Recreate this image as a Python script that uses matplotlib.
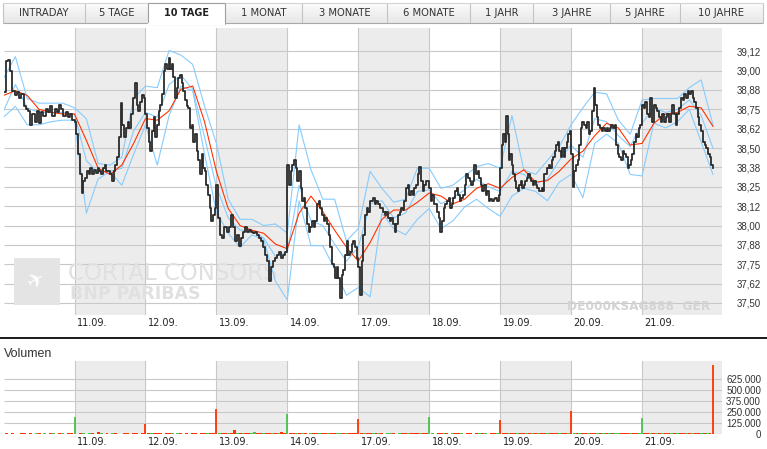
import matplotlib.pyplot as plt
import matplotlib.patches as patches
import numpy as np

# period selector
tabs = ['INTRADAY', '5 TAGE', '10 TAGE', '1 MONAT', '3 MONATE',
        '6 MONATE', '1 JAHR', '3 JAHRE', '5 JAHRE', '10 JAHRE']
active_tab = '10 TAGE'

# trading days, 10.09. is the first (unlabelled) one
day_labels = ['11.09.', '12.09.', '13.09.', '14.09.', '17.09.',
              '18.09.', '19.09.', '20.09.', '21.09.']

# intraday prices in EUR, one list per trading day
p_1009 = [38.86, 39.06, 39.07, 39.00, 38.87, 38.84, 38.86, 38.82, 38.85, 38.77, 38.75,
          38.74, 38.65, 38.72, 38.67, 38.74, 38.66, 38.73, 38.71, 38.75, 38.73, 38.77,
          38.71, 38.75, 38.73, 38.78, 38.75, 38.71, 38.73, 38.70, 38.72, 38.68]
p_1109 = [38.67, 38.59, 38.46, 38.33, 38.21, 38.29, 38.31, 38.35, 38.33, 38.37, 38.33,
          38.36, 38.34, 38.37, 38.35, 38.33, 38.37, 38.39, 38.35, 38.35, 38.33, 38.29,
          38.35, 38.39, 38.44, 38.57, 38.79, 38.65, 38.57, 38.63, 38.67, 38.63, 38.72,
          38.82, 38.92, 38.78, 38.74, 38.80, 38.84, 38.82]
p_1209 = [38.72, 38.63, 38.54, 38.48, 38.61, 38.70, 38.57, 38.65, 38.74, 38.78, 38.85,
          39.00, 39.04, 39.01, 39.08, 39.01, 39.04, 38.96, 38.82, 38.89, 38.95, 38.97,
          38.92, 38.87, 38.81, 38.77, 38.76, 38.63, 38.65, 38.54, 38.59, 38.48, 38.42,
          38.33, 38.46, 38.37, 38.35, 38.26, 38.20, 38.11, 38.03, 38.07, 38.11]
p_1309 = [38.26, 38.05, 37.94, 37.92, 37.99, 37.96, 37.99, 38.07, 37.99, 37.90, 37.94,
          37.87, 37.92, 37.96, 37.99, 37.96, 37.97, 37.96, 37.95, 37.96, 37.94, 37.92,
          37.90, 37.86, 37.81, 37.77, 37.64, 37.73, 37.77, 37.79, 37.81, 37.83, 37.79,
          37.81, 37.83]
p_1409 = [38.39, 38.26, 38.35, 38.39, 38.42, 38.37, 38.29, 38.35, 38.24, 38.16, 38.18,
          38.11, 38.01, 37.96, 37.99, 38.03, 37.99, 38.03, 38.14, 38.16, 38.11, 38.07,
          38.03, 38.05, 38.01, 37.94, 37.86, 37.75, 37.73, 37.66, 37.73, 37.66, 37.53,
          37.68, 37.71, 37.81, 37.90, 37.81, 37.83, 37.88, 37.90, 37.86, 37.79]
p_1709 = [37.73, 37.55, 37.77, 37.94, 38.07, 38.11, 38.09, 38.16, 38.16, 38.18, 38.14,
          38.16, 38.14, 38.11, 38.11, 38.09, 38.07, 38.09, 38.05, 38.03, 38.05, 38.01,
          37.96, 38.01, 38.07, 38.09, 38.11, 38.10, 38.16, 38.24, 38.26, 38.20, 38.22,
          38.20, 38.24, 38.26, 38.33, 38.38, 38.29, 38.22, 38.26, 38.29, 38.29]
p_1809 = [38.24, 38.16, 38.20, 38.14, 38.14, 38.09, 38.05, 37.96, 38.03, 38.11, 38.14,
          38.16, 38.18, 38.11, 38.14, 38.18, 38.22, 38.24, 38.20, 38.16, 38.18, 38.20,
          38.26, 38.33, 38.31, 38.29, 38.26, 38.29, 38.39, 38.33, 38.35, 38.31, 38.26,
          38.22, 38.26, 38.20, 38.22, 38.16, 38.17, 38.16, 38.17, 38.18, 38.16, 38.20]
p_1909 = [38.37, 38.52, 38.59, 38.54, 38.71, 38.59, 38.42, 38.46, 38.39, 38.33, 38.29,
          38.24, 38.22, 38.26, 38.29, 38.24, 38.26, 38.29, 38.31, 38.33, 38.31, 38.29,
          38.26, 38.29, 38.26, 38.24, 38.22, 38.22, 38.24, 38.22, 38.33, 38.33, 38.37,
          38.39, 38.37, 38.42, 38.44, 38.48, 38.52, 38.54, 38.48, 38.44, 38.50, 38.44,
          38.50, 38.54, 38.59, 38.61]
p_2009 = [38.46, 38.25, 38.35, 38.39, 38.42, 38.52, 38.63, 38.67, 38.65, 38.63, 38.67,
          38.59, 38.61, 38.74, 38.89, 38.78, 38.70, 38.65, 38.63, 38.61, 38.63, 38.61,
          38.63, 38.61, 38.63, 38.65, 38.63, 38.65, 38.52, 38.46, 38.44, 38.42, 38.48,
          38.46, 38.44, 38.37, 38.39, 38.42, 38.46, 38.54, 38.59, 38.57, 38.63, 38.65]
p_2109 = [38.78, 38.76, 38.80, 38.72, 38.70, 38.82, 38.67, 38.78, 38.76, 38.74, 38.70,
          38.67, 38.72, 38.67, 38.70, 38.72, 38.67, 38.72, 38.78, 38.72, 38.65, 38.72,
          38.76, 38.82, 38.81, 38.85, 38.82, 38.87, 38.85, 38.87, 38.82, 38.80, 38.76,
          38.70, 38.65, 38.61, 38.54, 38.52, 38.50, 38.46, 38.44, 38.39, 38.37]
price_days = [p_1009, p_1109, p_1209, p_1309, p_1409,
              p_1709, p_1809, p_1909, p_2009, p_2109]

# indicators, read six times per trading day from 10.09. open to 21.09. close
bb_upper = [38.95, 39.09, 38.82, 38.79, 38.79, 38.79, 38.76, 38.69, 38.40, 38.39,
            38.44, 38.82, 38.90, 38.89, 39.13, 39.10, 39.04, 38.77, 38.53, 38.17,
            38.04, 38.04, 38.00, 38.01, 37.95, 38.65, 38.36, 38.17, 38.17, 37.90,
            37.98, 38.35, 38.24, 38.15, 38.17, 38.37, 38.37, 38.24, 38.26, 38.32,
            38.38, 38.40, 38.37, 38.71, 38.36, 38.33, 38.42, 38.51, 38.65, 38.76,
            38.86, 38.85, 38.68, 38.59, 38.81, 38.82, 38.82, 38.82, 38.89, 38.94, 38.65]
bb_mid = [38.74, 38.91, 38.76, 38.73, 38.73, 38.73, 38.72, 38.42, 38.34, 38.35,
          38.37, 38.61, 38.73, 38.70, 38.91, 38.97, 38.88, 38.57, 38.25, 38.05,
          37.97, 37.97, 37.92, 37.80, 37.83, 38.26, 38.03, 38.00, 37.88, 37.77,
          37.86, 38.14, 38.16, 38.05, 38.08, 38.22, 38.23, 38.14, 38.18, 38.23,
          38.30, 38.25, 38.22, 38.35, 38.33, 38.27, 38.30, 38.42, 38.52, 38.44,
          38.69, 38.67, 38.58, 38.51, 38.66, 38.76, 38.73, 38.75, 38.81, 38.71, 38.50]
bb_lower = [38.70, 38.77, 38.65, 38.65, 38.67, 38.68, 38.68, 38.08, 38.30, 38.35,
            38.26, 38.46, 38.65, 38.39, 38.71, 38.90, 38.87, 38.46, 38.09, 37.95,
            37.86, 37.94, 37.91, 37.64, 37.52, 38.16, 37.87, 37.87, 37.72, 37.55,
            37.60, 37.54, 38.08, 37.98, 37.94, 38.04, 38.11, 37.98, 38.03, 38.12,
            38.17, 38.11, 38.06, 38.19, 38.24, 38.22, 38.16, 38.28, 38.33, 38.18,
            38.53, 38.59, 38.53, 38.33, 38.32, 38.66, 38.63, 38.67, 38.75, 38.54, 38.33]
ma_red = [38.84, 38.87, 38.84, 38.75, 38.73, 38.72, 38.72, 38.55, 38.37, 38.33,
          38.39, 38.53, 38.69, 38.68, 38.74, 38.88, 38.90, 38.67, 38.35, 38.11,
          38.00, 37.97, 37.95, 37.88, 37.85, 38.08, 38.19, 38.09, 37.97, 37.86,
          37.77, 37.89, 38.04, 38.10, 38.10, 38.15, 38.21, 38.19, 38.14, 38.17,
          38.24, 38.27, 38.24, 38.31, 38.36, 38.28, 38.29, 38.35, 38.43, 38.48,
          38.58, 38.66, 38.63, 38.52, 38.53, 38.66, 38.72, 38.73, 38.77, 38.76, 38.64]

price_ticks = [37.5, 37.625, 37.75, 37.875, 38.0, 38.125, 38.25,
               38.375, 38.5, 38.625, 38.75, 38.875, 39.0, 39.125]
price_labels = ['37,50', '37,62', '37,75', '37,88', '38,00', '38,12', '38,25',
                '38,38', '38,50', '38,62', '38,75', '38,88', '39,00', '39,12']

# volume in 1000 shares, 24 bars per day, last bar = closing auction
v_1009 = [10, 8, 12, 9, 8, 14, 10, 9, 11, 8, 10, 12, 9, 10, 8, 11, 10, 9, 15, 10, 9, 12, 10, 200]
v_1109 = [9, 11, 10, 8, 12, 10, 9, 22, 10, 8, 11, 9, 10, 12, 9, 8, 10, 11, 9, 12, 10, 9, 20, 117]
v_1209 = [12, 15, 18, 10, 14, 9, 11, 10, 12, 9, 10, 11, 9, 10, 8, 10, 11, 9, 10, 12, 10, 15, 14, 280]
v_1309 = [12, 14, 10, 11, 16, 47, 14, 12, 20, 12, 10, 14, 22, 11, 10, 12, 14, 11, 20, 12, 16, 24, 12, 225]
v_1409 = [14, 16, 12, 10, 11, 14, 9, 12, 15, 10, 12, 11, 14, 12, 16, 14, 11, 15, 12, 10, 12, 20, 12, 170]
v_1709 = [12, 10, 16, 11, 10, 12, 10, 11, 9, 10, 12, 10, 9, 11, 10, 12, 14, 10, 12, 10, 11, 13, 10, 200]
v_1809 = [10, 9, 11, 10, 12, 10, 9, 11, 10, 12, 10, 9, 11, 10, 9, 10, 11, 12, 10, 9, 11, 10, 12, 158]
v_1909 = [12, 14, 11, 10, 15, 12, 11, 10, 12, 14, 11, 10, 12, 10, 11, 12, 14, 10, 12, 11, 10, 12, 14, 258]
v_2009 = [12, 10, 11, 14, 12, 10, 12, 11, 14, 12, 16, 12, 18, 14, 12, 10, 12, 16, 14, 12, 10, 12, 11, 188]
v_2109 = [10, 12, 11, 10, 12, 14, 11, 12, 10, 12, 14, 11, 12, 16, 12, 14, 18, 12, 16, 12, 14, 12, 10, 778]
vol_days = [v_1009, v_1109, v_1209, v_1309, v_1409,
            v_1709, v_1809, v_1909, v_2009, v_2109]
# u = price up, d = price down
vol_dirs = ("duddud duddud duddud dudddu" "ddudud dduddd uddudd uddudd"
            "dudddu ddudud dduddu dduddd" "uddudd ududdu uddudd ududdu"
            "ddudud duddud dudduu dudddd" "duddud udduud duddud dduddu"
            "udddud duddud ddudud udddud" "dduddu ddudud uddudd duddud"
            "ududdu ddudud uduudd dudduu" "ddudud uddudu ddudud dududd").replace(" ", "")
vol_ticks = [0, 125000, 250000, 375000, 500000, 625000]
vol_labels = ['0', '125.000', '250.000', '375.000', '500.000', '625.000']

W, H = 767, 449
fig = plt.figure(figsize=(W / 100, H / 100), dpi=100)
fig.patch.set_facecolor('white')


def px_axes(x0, y0, x1, y1):
    return fig.add_axes([x0 / W, 1 - y1 / H, (x1 - x0) / W, (y1 - y0) / H])


# overlay in pixel coordinates for the tab bar and captions
ov = px_axes(0, 0, W, H)
ov.axis('off')

grad = np.linspace(0.985, 0.905, 40)[:, None] * np.ones((1, 2))
ov.imshow(grad, extent=(3, 763, 23, 3), cmap='gray', vmin=0, vmax=1,
          aspect='auto', interpolation='bilinear', zorder=1)
tab_edges = [3, 85, 148, 225, 302, 387, 470, 533, 610, 680, 763]
ov.vlines(tab_edges, 3, 23, color='#c4c4c4', lw=0.8, zorder=2)
ov.hlines(23, 3, 763, color='#a8a8a8', lw=0.8, zorder=2)
ov.hlines(3, 3, 763, color='#d4d4d4', lw=0.8, zorder=2)
for i, name in enumerate(tabs):
    x0, x1 = tab_edges[i], tab_edges[i + 1]
    if name == active_tab:
        ov.add_patch(patches.Rectangle((x0, 2.5), x1 - x0, 21.5, fc='white',
                                       ec='#a0a0a0', lw=0.8, zorder=3))
        ov.plot([x0 + 0.7, x1 - 0.7], [23.6, 23.6], color='white', lw=1.6, zorder=4)
        ov.text((x0 + x1) / 2, 13.5, name, ha='center', va='center', fontsize=7,
                fontweight='bold', color='#222222', zorder=5)
    else:
        ov.text((x0 + x1) / 2, 13.5, name, ha='center', va='center', fontsize=7.2,
                color='#333333', zorder=5)

ov.hlines(338, 0, W, color='#1a1a1a', lw=1.4)
ov.text(4, 354, 'Volumen', fontsize=9, family='Liberation Sans', va='center',
        color='#333333')

day_px = 70.94
x_end = (722 - 3.56) / day_px

# ---- price panel
ax = px_axes(3.56, 28, 722, 315)
for i in range(1, 10, 2):
    ax.axvspan(i, i + 1 if i < 9 else x_end, fc='#ececec', lw=0, zorder=0)
ax.hlines(price_ticks, 0, x_end, color='#c8c8c8', lw=0.8, zorder=1)
for i in range(1, 10):
    ax.axvline(i, color='#c8c8c8', lw=0.8, zorder=1)

# watermark
ax.add_patch(patches.Rectangle((14, 258), 46, 47, fc='#e4e4e4', lw=0,
                               transform=ov.transData, zorder=1.5, clip_on=False))
ax.text(37, 281, '\u2708', fontsize=15, color='white', ha='center', va='center',
        rotation=30, transform=ov.transData, zorder=1.6)
ax.text(68, 273, 'CORTAL CONSORS', fontsize=16.5, color='#e0e0e0', va='center',
        transform=ov.transData, zorder=1.5)
ax.text(70, 294, 'BNP PARIBAS', fontsize=12.5, fontweight='bold', color='#e0e0e0',
        va='center', transform=ov.transData, zorder=1.5)
ax.text(710, 306, 'DE000KSAG888  GER', fontsize=8.7, fontweight='bold',
        color='#d4d4d4', ha='right', va='center', transform=ov.transData, zorder=1.5)

t_ind = np.arange(len(ma_red)) / 6
for band in (bb_upper, bb_mid, bb_lower):
    ax.plot(t_ind, band, color='#86ccff', lw=0.8, zorder=3)
ax.plot(t_ind, ma_red, color='#ff3300', lw=0.8, zorder=4)

t_price = np.concatenate([np.linspace(i, i + 1, len(p), endpoint=(i == 9))
                          for i, p in enumerate(price_days)])
ax.plot(t_price, np.concatenate(price_days), drawstyle='steps-post',
        color='#2b2b2b', lw=1.3, zorder=5)

ax.set_xlim(0, x_end)
ax.set_ylim(37.4225, 39.275)
ax.set_xticks([])
ax.yaxis.tick_right()
ax.set_yticks(price_ticks, price_labels)
ax.tick_params(axis='y', length=0, pad=28.1, labelsize=7, labelcolor='#333333')
for lab in ax.get_yticklabels():
    lab.set_ha('right')
    lab.set_fontfamily('Liberation Sans')
for s in ax.spines.values():
    s.set_visible(False)
for i, lab in enumerate(day_labels):
    ax.annotate(lab, xy=(i + 1, 0), xycoords=ax.get_xaxis_transform(),
                xytext=(1.8, -5.4), textcoords='offset points', ha='left',
                va='center', fontsize=7, color='#222222', annotation_clip=False)

# ---- volume panel
vax = px_axes(3.56, 360.7, 722, 434.3)
for i in range(1, 10, 2):
    vax.axvspan(i, i + 1 if i < 9 else x_end, fc='#ececec', lw=0, zorder=0)
vax.hlines(vol_ticks, 0, x_end, color='#c8c8c8', lw=0.8, zorder=1)
for i in range(1, 10):
    vax.axvline(i, color='#c8c8c8', lw=0.8, zorder=1)

n_bar = len(v_1009)
t_vol = np.concatenate([i + (np.arange(len(v)) + 1) / len(v) for i, v in enumerate(vol_days)])
vols = np.concatenate(vol_days) * 1000
cols = np.array(['#4cc04c' if c == 'u' else '#ff3300' for c in vol_dirs])
small = vols < 60000
# small trades fill the baseline, auction spikes are thin lines
vax.bar(t_vol[small], vols[small] + 9000, width=1 / n_bar, bottom=-9000,
        color=cols[small], lw=0, zorder=3)
vax.vlines(t_vol[~small], 0, vols[~small], colors=cols[~small], lw=1.3, zorder=3)

vax.set_xlim(0, x_end)
vax.set_ylim(0, 830000)
vax.set_xticks([])
vax.yaxis.tick_right()
vax.set_yticks(vol_ticks, vol_labels)
vax.tick_params(axis='y', length=0, pad=28.1, labelsize=7, labelcolor='#333333')
for lab in vax.get_yticklabels():
    lab.set_ha('right')
    lab.set_fontfamily('Liberation Sans')
for s in vax.spines.values():
    s.set_visible(False)
for i, lab in enumerate(day_labels):
    vax.annotate(lab, xy=(i + 1, 0), xycoords=vax.get_xaxis_transform(),
                 xytext=(1.8, -5.2), textcoords='offset points', ha='left',
                 va='center', fontsize=7, color='#222222', annotation_clip=False)

ov.set_xlim(0, W)
ov.set_ylim(H, 0)

plt.savefig('out.png', dpi=100)
